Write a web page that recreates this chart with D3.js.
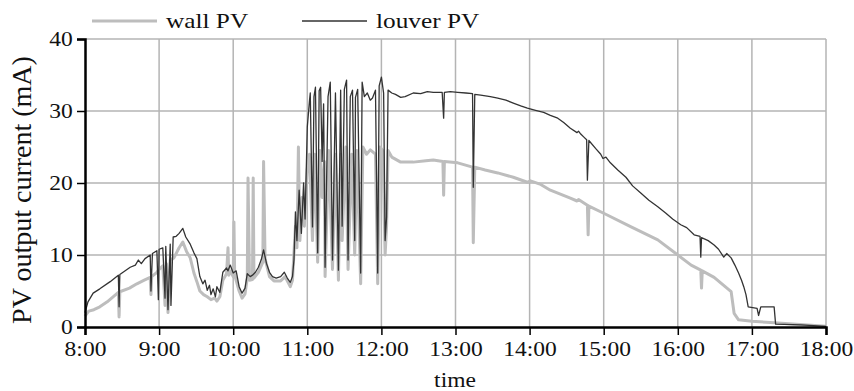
<!DOCTYPE html>
<html lang="en">
<head>
<meta charset="utf-8">
<script src="https://d3js.org/d3.v7.min.js"></script>
<style>
  body { margin: 0; background: #fff; }
</style>
</head>
<body>
<script>
// time in decimal hours, current in mA
var louverTime = [8.00,8.04,8.11,8.20,8.34,8.45,8.46,8.47,8.61,8.68,8.72,8.76,8.81,8.88,8.89,8.91,8.97,8.99,9.00,9.05,9.08,9.09,9.12,9.15,9.16,9.19,9.23,9.27,9.32,9.36,9.42,9.47,9.51,9.55,9.59,9.62,9.65,9.68,9.70,9.73,9.76,9.78,9.82,9.86,9.91,9.93,9.96,10.00,10.04,10.08,10.12,10.16,10.19,10.23,10.26,10.30,10.34,10.38,10.41,10.45,10.49,10.53,10.58,10.64,10.69,10.73,10.77,10.80,10.82,10.84,10.86,10.89,10.92,10.95,10.97,11.00,11.03,11.04,11.07,11.09,11.11,11.14,11.16,11.18,11.20,11.22,11.24,11.28,11.31,11.34,11.38,11.42,11.45,11.47,11.50,11.53,11.55,11.58,11.61,11.64,11.65,11.68,11.72,11.74,11.77,11.81,11.85,11.88,11.92,11.95,11.97,12.00,12.03,12.05,12.07,12.09,12.14,12.19,12.26,12.32,12.43,12.53,12.62,12.70,12.82,12.84,12.85,12.93,13.03,13.14,13.23,13.24,13.26,13.34,13.47,13.57,13.68,13.78,13.88,13.97,14.08,14.19,14.28,14.38,14.46,14.55,14.64,14.66,14.69,14.74,14.77,14.78,14.80,14.89,14.96,14.99,15.03,15.09,15.19,15.30,15.39,15.50,15.61,15.73,15.84,15.93,16.04,16.12,16.22,16.30,16.31,16.32,16.41,16.49,16.55,16.62,16.66,16.72,16.77,16.82,16.86,16.89,16.92,16.95,17.01,17.07,17.09,17.12,17.20,17.30,17.32,17.66,18.00];
var louverValues = [2.0,3.5,4.7,5.3,6.3,7.2,2.8,7.3,8.3,8.6,9.3,8.8,9.5,10.0,5.0,10.2,10.6,3.8,10.8,11.0,4.0,11.2,2.4,11.5,3.0,12.5,12.6,13.0,13.7,12.5,11.5,10.3,9.5,7.0,6.0,6.5,5.1,5.8,4.5,5.3,4.2,5.6,4.8,7.6,8.2,7.8,8.6,7.5,7.8,5.6,4.7,5.4,7.4,7.0,7.2,7.6,8.3,9.4,10.7,8.8,7.6,7.0,6.8,7.0,7.6,6.8,6.2,7.0,9.3,16.0,12.0,19.0,13.0,20.0,15.0,27.8,31.5,32.5,13.9,32.0,33.3,10.3,32.8,33.3,23.0,31.0,8.3,32.0,34.0,9.3,32.5,7.9,32.9,14.0,33.0,34.3,9.3,32.0,32.9,12.0,31.9,33.0,7.5,34.0,32.0,32.5,31.5,31.8,32.9,7.5,33.5,34.7,32.5,12.0,15.3,32.9,32.5,32.3,31.9,32.0,32.5,32.4,32.7,32.6,32.6,29.0,32.6,32.7,32.6,32.5,32.4,19.4,32.3,32.2,32.0,31.8,31.5,31.1,30.7,30.4,30.1,29.8,29.4,29.0,28.4,27.6,27.0,27.2,26.8,26.3,26.0,20.4,25.9,24.8,24.0,23.4,23.6,22.8,21.8,20.8,19.6,18.6,17.6,16.7,15.8,15.0,14.2,13.8,12.8,12.6,9.7,12.4,12.0,11.4,10.8,9.7,10.2,9.6,8.6,7.5,6.5,5.6,4.5,2.8,2.7,2.6,1.6,2.8,2.8,2.8,0.4,0.3,0.1];

var wallTime = [8.00,8.05,8.12,8.20,8.30,8.45,8.46,8.47,8.60,8.70,8.80,8.88,8.89,8.90,8.97,9.00,9.05,9.08,9.10,9.12,9.15,9.20,9.27,9.32,9.37,9.42,9.47,9.51,9.55,9.60,9.65,9.70,9.75,9.78,9.82,9.86,9.91,9.93,9.94,9.96,10.00,10.01,10.02,10.08,10.12,10.16,10.19,10.20,10.22,10.26,10.27,10.28,10.34,10.40,10.41,10.43,10.49,10.55,10.64,10.70,10.77,10.80,10.84,10.86,10.88,10.90,10.93,10.96,11.00,11.03,11.07,11.10,11.14,11.17,11.20,11.23,11.24,11.29,11.34,11.38,11.42,11.45,11.47,11.52,11.55,11.60,11.64,11.67,11.72,11.75,11.80,11.85,11.92,11.95,11.98,12.02,12.05,12.07,12.09,12.14,12.26,12.43,12.60,12.70,12.83,12.84,12.85,13.03,13.23,13.24,13.26,13.40,13.57,13.78,13.97,14.01,14.15,14.28,14.55,14.64,14.66,14.78,14.79,14.80,15.00,15.37,15.73,16.00,16.18,16.31,16.32,16.33,16.49,16.72,16.76,16.82,17.00,17.30,18.00];
var wallValues = [1.5,2.2,2.4,2.8,3.5,4.8,1.4,4.9,5.4,6.0,6.5,6.9,4.5,7.0,7.6,8.0,8.5,3.0,8.8,2.0,9.3,9.6,11.0,11.8,10.5,9.6,7.5,6.3,5.0,4.5,4.2,3.8,4.0,3.6,4.2,6.5,7.4,11.0,7.2,7.8,7.0,14.6,7.2,5.0,4.0,4.6,6.8,20.7,6.5,6.6,20.7,6.8,7.6,9.0,23.0,9.5,7.0,6.4,6.4,7.0,5.6,6.5,14.0,11.0,25.0,12.0,18.0,14.0,22.0,24.0,12.0,24.0,9.0,24.5,18.0,23.0,7.0,24.5,8.0,24.0,6.5,24.0,12.0,25.0,8.0,24.0,10.0,24.5,6.0,25.0,24.0,24.6,24.0,6.0,25.0,24.5,10.0,14.0,24.5,23.6,22.9,22.9,23.1,23.2,23.0,18.3,23.0,22.8,22.2,11.7,22.2,21.8,21.4,20.8,20.1,20.3,19.8,19.0,17.9,17.5,17.7,16.9,12.8,16.8,15.8,13.9,12.1,10.0,8.6,7.9,5.4,7.8,6.9,4.9,1.9,1.0,0.8,0.6,0.1];

var hourTicks = [8,9,10,11,12,13,14,15,16,17,18];
var valueTicks = [0,10,20,30,40];
var seriesNames = ["wall PV", "louver PV"];

var width = 854, height = 391;
var margin = { left: 85, right: 28, top: 39, bottom: 64 };
var serif = "'Liberation Serif', 'Times New Roman', 'DejaVu Serif', serif";

var svg = d3.select("body").append("svg")
  .attr("width", width)
  .attr("height", height);

var x = d3.scaleLinear().domain([8, 18]).range([margin.left, width - margin.right]);
var y = d3.scaleLinear().domain([0, 40]).range([height - margin.bottom, margin.top]);

// grid
svg.append("g").selectAll("line").data(hourTicks.slice(1)).join("line")
  .attr("x1", d => x(d)).attr("x2", d => x(d))
  .attr("y1", y(40)).attr("y2", y(0))
  .attr("stroke", "#b4b4b4").attr("stroke-width", 1.5);
svg.append("g").selectAll("line").data(valueTicks.slice(1)).join("line")
  .attr("x1", x(8)).attr("x2", x(18))
  .attr("y1", d => y(d)).attr("y2", d => y(d))
  .attr("stroke", "#b4b4b4").attr("stroke-width", 1.5);

// series
var line = d3.line().x(d => x(d[0])).y(d => y(d[1]));
svg.append("path")
  .datum(d3.zip(wallTime, wallValues))
  .attr("d", line)
  .attr("fill", "none")
  .attr("stroke", "#bdbdbd")
  .attr("stroke-width", 3)
  .attr("stroke-linejoin", "round");
svg.append("path")
  .datum(d3.zip(louverTime, louverValues))
  .attr("d", line)
  .attr("fill", "none")
  .attr("stroke", "#333")
  .attr("stroke-width", 1.3)
  .attr("stroke-linejoin", "round");

// axes
var xAxis = svg.append("g")
  .attr("transform", "translate(0," + y(0) + ")")
  .call(d3.axisBottom(x).tickValues(hourTicks).tickFormat(d => d + ":00").tickSize(8).tickPadding(6));
var yAxis = svg.append("g")
  .attr("transform", "translate(" + x(8) + ",0)")
  .call(d3.axisLeft(y).tickValues(valueTicks).tickSize(8).tickPadding(3));
[xAxis, yAxis].forEach(function (g) {
  g.attr("font-family", null).attr("font-size", null);
  g.select(".domain").attr("stroke", "#000").attr("stroke-width", 2.5);
  g.selectAll(".tick line").attr("stroke", "#000").attr("stroke-width", 1.5);
  g.selectAll("text")
    .style("font-size", "21px")
    .style("font-family", serif)
    .attr("fill", "#111")
    .attr("transform", "scale(1.12,1)");
});

svg.append("text")
  .attr("transform", "translate(455,387) scale(1.12,1)")
  .attr("text-anchor", "middle")
  .style("font-family", serif)
  .style("font-size", "21px")
  .attr("fill", "#111")
  .text("time");
svg.append("text")
  .attr("transform", "translate(31,190) rotate(-90)")
  .attr("text-anchor", "middle")
  .style("font-family", serif)
  .style("font-size", "28px")
  .attr("fill", "#111")
  .text("PV output current (mA)");

// legend
var legend = svg.append("g");
var legX = [92, 302];
var legColor = ["#bdbdbd", "#333"];
var legWidth = [3, 1.3];
seriesNames.forEach(function (name, i) {
  legend.append("line")
    .attr("x1", legX[i]).attr("x2", legX[i] + 65)
    .attr("y1", 21).attr("y2", 21)
    .attr("stroke", legColor[i]).attr("stroke-width", legWidth[i]);
  legend.append("text")
    .attr("transform", "translate(" + (legX[i] + 74) + ",28) scale(1.15,1)")
    .style("font-family", serif)
    .style("font-size", "22px")
    .attr("fill", "#111")
    .text(name);
});
</script>
</body>
</html>
